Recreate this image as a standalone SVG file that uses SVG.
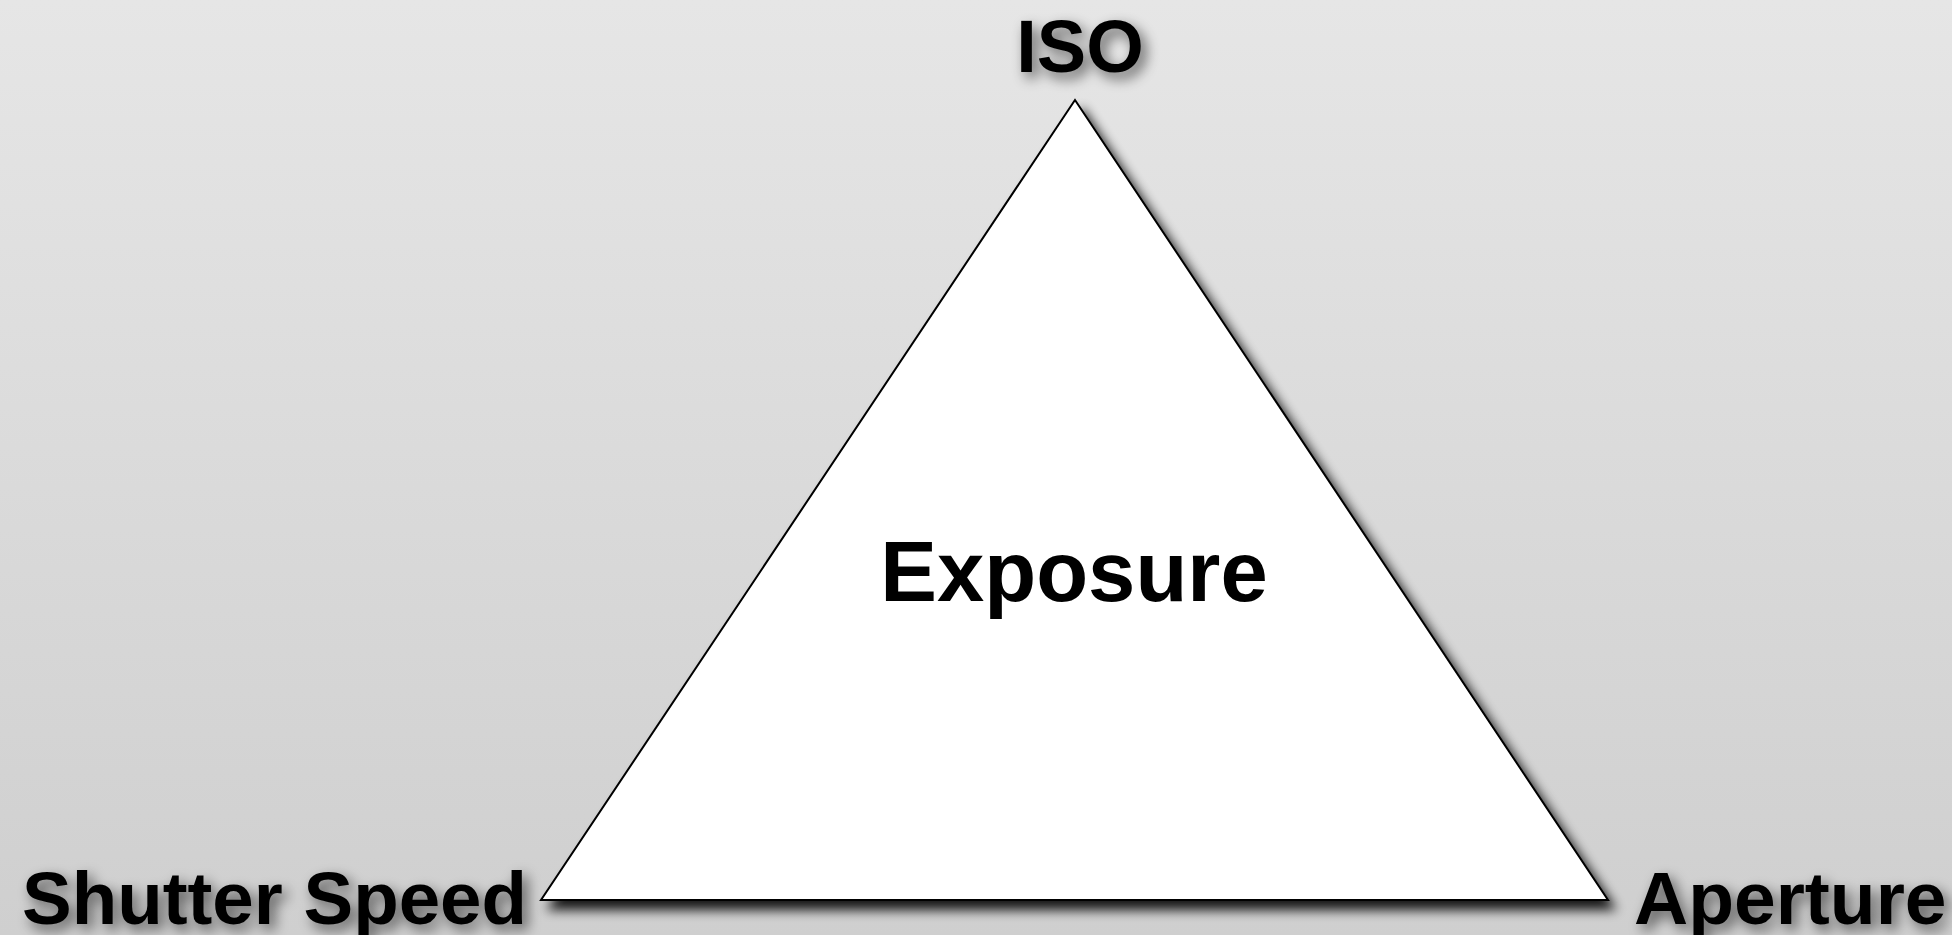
<svg xmlns="http://www.w3.org/2000/svg" width="1952" height="935" viewBox="0 0 1952 935">
<defs>
<linearGradient id="bg" x1="0" y1="0" x2="0" y2="1">
<stop offset="0" stop-color="#e6e6e6"/>
<stop offset="1" stop-color="#cfcfcf"/>
</linearGradient>
<filter id="triShadow" x="-10%" y="-10%" width="120%" height="125%">
<feGaussianBlur in="SourceAlpha" stdDeviation="6"/>
<feOffset dx="7" dy="9" result="b"/>
<feComponentTransfer in="b" result="s"><feFuncA type="linear" slope="0.9"/></feComponentTransfer>
<feMerge><feMergeNode in="s"/><feMergeNode in="SourceGraphic"/></feMerge>
</filter>
<filter id="textShadow" x="-20%" y="-40%" width="140%" height="180%">
<feGaussianBlur in="SourceAlpha" stdDeviation="7"/>
<feOffset dx="5" dy="6" result="b"/>
<feComponentTransfer in="b" result="s"><feFuncA type="linear" slope="0.6"/></feComponentTransfer>
<feMerge><feMergeNode in="s"/><feMergeNode in="SourceGraphic"/></feMerge>
</filter>
</defs>
<style>
.lbl{font-family:"Liberation Sans",Arial,sans-serif;font-weight:bold;fill:#000;}
</style>
<rect x="0" y="0" width="1952" height="935" fill="url(#bg)"/>
<g id="triangle">
<polygon points="1075,100 541,900 1608,900" fill="#ffffff" stroke="#000" stroke-width="2" stroke-linejoin="miter" filter="url(#triShadow)"/>
</g>
<g id="exposure">
<text class="lbl" x="1074" y="601" font-size="85" text-anchor="middle">Exposure</text>
</g>
<g id="iso">
<text class="lbl" x="1080" y="72" font-size="74" text-anchor="middle" filter="url(#textShadow)">ISO</text>
</g>
<g id="shutter-speed">
<text class="lbl" x="22" y="924" font-size="74.5" filter="url(#textShadow)">Shutter Speed</text>
</g>
<g id="aperture">
<text class="lbl" x="1634" y="924" font-size="75" filter="url(#textShadow)">Aperture</text>
</g>
<g id="connectors"/>
</svg>
